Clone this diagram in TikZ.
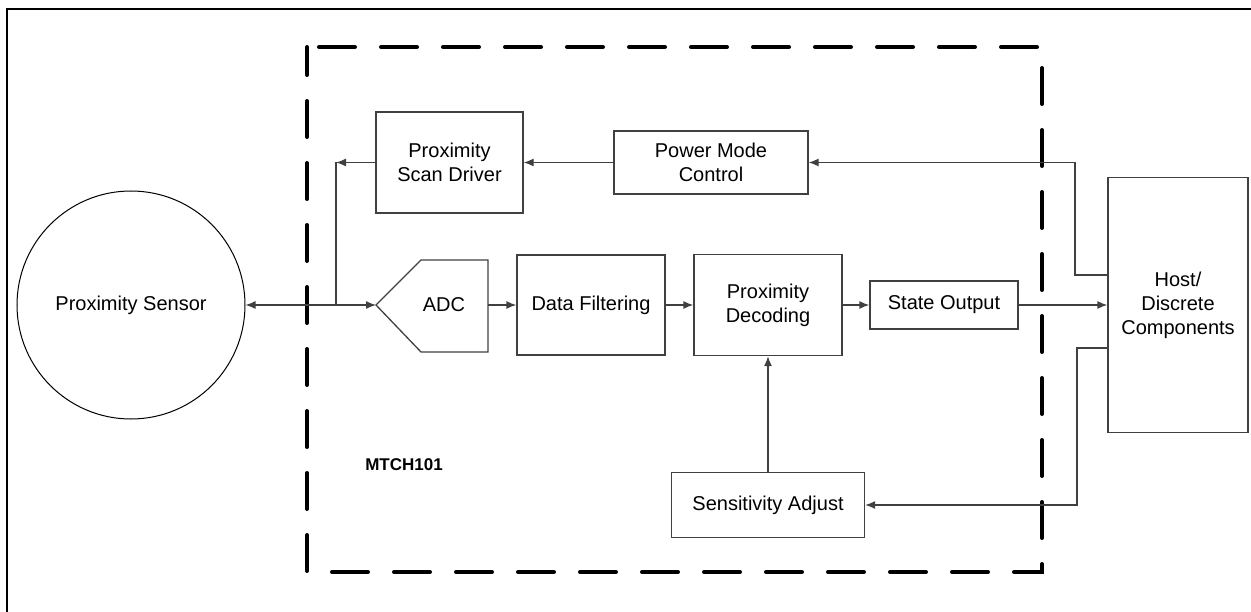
\documentclass[tikz,border=0pt]{standalone}
\usepackage{fontspec}
\setmainfont{Liberation Sans}
\usetikzlibrary{arrows.meta}

\begin{document}
\begin{tikzpicture}[x=1pt, y=-1pt,
    font=\fontsize{20}{24}\selectfont,
    block/.style={draw=black!75, line width=1.3pt, align=center, inner sep=0pt},
    conn/.style={draw=black!75, line width=1.3pt},
    arr/.style={conn, -{Latex[length=10pt,width=8pt]}}]
    \useasboundingbox (0,0) rectangle (1251,612);

    % Frame
    \draw [line width=2.5pt] (7,700) -- (7,9) -- (1400,9);

    % Chip outline
    \draw [line width=4pt, line cap=round, dash pattern=on 36pt off 26pt, dash phase=8pt]
        (307,47) rectangle (1042,572);
    \node [font=\fontsize{17}{20}\selectfont\bfseries] (chip) at (404,465) {MTCH101};

    % Blocks
    \node [draw, line width=1pt, circle, minimum size=228pt, inner sep=0pt] (sensor) at (131,305) {Proximity Sensor};
    \node [block, minimum width=147pt, minimum height=101pt] (scan) at (449.5,162.5) {Proximity\\Scan Driver};
    \node [block, minimum width=194pt, minimum height=63pt] (power) at (711,162.5) {Power Mode\\Control};
    \draw [conn] (376,305) -- (421,260) -- (488,260) -- (488,352) -- (421,352) -- cycle;
    \node (adc) at (444,305) {ADC};
    \coordinate (adcin) at (376,305);
    \coordinate (adcout) at (488,305);
    \node [block, minimum width=148pt, minimum height=100pt] (filt) at (591,305) {Data Filtering};
    \node [block, minimum width=148pt, minimum height=101pt] (dec) at (768,305) {Proximity\\Decoding};
    \node [block, minimum width=148pt, minimum height=48pt] (state) at (944,305) {State Output};
    \node [block, minimum width=140pt, minimum height=255pt] (host) at (1178,305) {Host/\\Discrete\\Components};
    \node [block, minimum width=193pt, minimum height=65pt] (sens) at (768,505) {Sensitivity Adjust};

    % Connectors
    \coordinate (tap) at (336,162.5);
    \coordinate (join) at (336,305);
    \coordinate (hostp) at (1108,275);
    \coordinate (hosts) at (1108,348);
    \draw [conn, {Latex[length=10pt,width=8pt]}-{Latex[length=10pt,width=8pt]}] (sensor.east) -- (adcin);
    \draw [arr] (scan.west) -- (tap);
    \draw [conn] (tap) -- (join);
    \draw [arr] (power.west) -- (scan.east);
    \draw [arr] (adcout) -- (filt.west);
    \draw [arr] (filt.east) -- (dec.west);
    \draw [arr] (dec.east) -- (state.west);
    \draw [arr] (state.east) -- (host.west);
    \draw [arr] (sens.north) -- (dec.south);
    \draw [arr] (hostp) -- ++(-33,0) |- (power.east);
    \draw [arr] (hosts) -- ++(-31,0) |- (sens.east);
\end{tikzpicture}
\end{document}
